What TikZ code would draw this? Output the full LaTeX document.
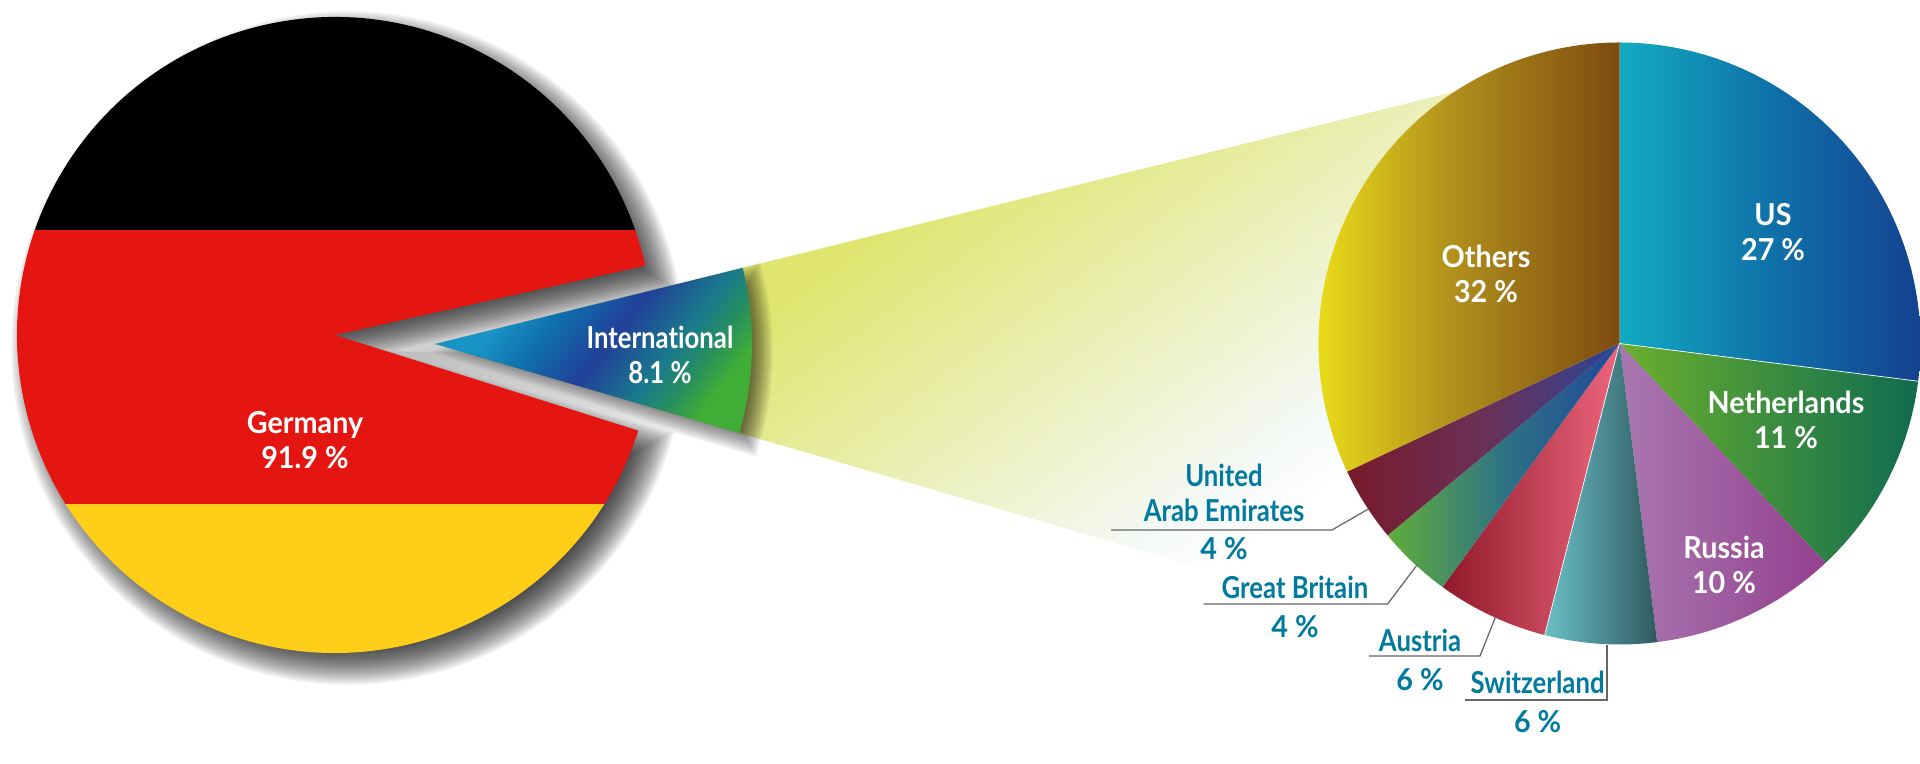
\documentclass[tikz,border=0pt]{standalone}
\usepackage{fontspec}
\setmainfont{Lato}[Ligatures=NoCommon,FakeStretch=0.95]
\newfontfamily\narrowfont{Lato}[Ligatures=NoCommon,FakeStretch=0.85]
\usepackage{tikz}
\usetikzlibrary{positioning}

\definecolor{gerblack}{HTML}{000000}
\definecolor{gerred}{HTML}{E51611}
\definecolor{geryellow}{HTML}{FFCE19}
\definecolor{labelteal}{HTML}{007A9E}

\pgfdeclarehorizontalshading{fanshade}{100bp}{rgb(0bp)=(0.875,0.898,0.435); rgb(40bp)=(0.875,0.898,0.435); rgb(67bp)=(0.96,0.976,0.973); rgb(71bp)=(1,1,1); rgb(100bp)=(1,1,1)}
\pgfdeclarehorizontalshading{intlshade}{100bp}{rgb(0bp)=(0.10,0.58,0.78); rgb(31bp)=(0.10,0.58,0.78); rgb(40bp)=(0.06,0.44,0.68); rgb(51bp)=(0.13,0.25,0.60); rgb(62bp)=(0.10,0.48,0.55); rgb(68bp)=(0.15,0.56,0.37); rgb(74bp)=(0.25,0.68,0.21); rgb(100bp)=(0.25,0.68,0.21)}
\pgfdeclarehorizontalshading{usshade}{100bp}{rgb(0bp)=(0.07,0.67,0.76); rgb(25bp)=(0.07,0.67,0.76); rgb(50bp)=(0.06,0.44,0.66); rgb(75bp)=(0.08,0.25,0.56); rgb(100bp)=(0.08,0.25,0.56)}
\pgfdeclarehorizontalshading{nlshade}{100bp}{rgb(0bp)=(0.42,0.69,0.18); rgb(25bp)=(0.42,0.69,0.18); rgb(75bp)=(0.06,0.42,0.31); rgb(100bp)=(0.06,0.42,0.31)}
\pgfdeclarehorizontalshading{rushade}{100bp}{rgb(0bp)=(0.66,0.47,0.69); rgb(25bp)=(0.66,0.47,0.69); rgb(75bp)=(0.58,0.25,0.56); rgb(100bp)=(0.58,0.25,0.56)}
\pgfdeclarehorizontalshading{chshade}{100bp}{rgb(0bp)=(0.42,0.75,0.78); rgb(25bp)=(0.42,0.75,0.78); rgb(75bp)=(0.18,0.35,0.37); rgb(100bp)=(0.18,0.35,0.37)}
\pgfdeclarehorizontalshading{atshade}{100bp}{rgb(0bp)=(0.56,0.10,0.16); rgb(25bp)=(0.56,0.10,0.16); rgb(75bp)=(0.93,0.40,0.49); rgb(100bp)=(0.93,0.40,0.49)}
\pgfdeclarehorizontalshading{gbshade}{100bp}{rgb(0bp)=(0.38,0.68,0.23); rgb(25bp)=(0.38,0.68,0.23); rgb(50bp)=(0.18,0.45,0.52); rgb(75bp)=(0.13,0.28,0.60); rgb(100bp)=(0.13,0.28,0.60)}
\pgfdeclarehorizontalshading{uaeshade}{100bp}{rgb(0bp)=(0.47,0.10,0.17); rgb(25bp)=(0.47,0.10,0.17); rgb(50bp)=(0.42,0.19,0.34); rgb(75bp)=(0.17,0.27,0.59); rgb(100bp)=(0.17,0.27,0.59)}
\pgfdeclarehorizontalshading{othershade}{100bp}{rgb(0bp)=(0.95,0.91,0.10); rgb(28bp)=(0.95,0.91,0.10); rgb(50bp)=(0.70,0.57,0.11); rgb(75bp)=(0.49,0.29,0.06); rgb(100bp)=(0.49,0.29,0.06)}

\tikzset{
	inlabel/.style={text=white,font=\fontsize{8.6}{9.9}\selectfont\bfseries,align=center},
	intlabel/.style={text=white,font=\narrowfont\fontsize{8.6}{9.9}\selectfont\bfseries,align=center},
	outlabel/.style={text=labelteal,font=\narrowfont\fontsize{8.6}{9.9}\selectfont\bfseries,align=center},
	leader/.style={draw=black!60,line width=0.35pt},
}
\newcommand{\germanypie}{(335,429) -- ++(12.6:318) arc[start angle=12.6,end angle=342.5,radius=318] -- cycle}
\newcommand{\intlpie}{(435,420) -- ++(13.9:317) arc[start angle=13.9,end angle=-16.3,radius=317] -- cycle}

\begin{document}
\begin{tikzpicture}[x=0.01cm,y=0.01cm]
	\useasboundingbox (0,0) rectangle (1920,764);

	\coordinate (tip) at (435,420);
	\shade[shading=fanshade,shading angle=-54] (tip) -- ++(13.9:1100) -- ([shift={(-16.3:1000)}]tip) -- cycle;

	\begin{scope}[shift={(13,-13)}]
	\foreach \h in {-19,-18,...,19}
	{ \pgfmathsetmacro{\ang}{asin(\h/(318+\h))}
	\pgfmathsetmacro{\off}{\h/0.251}
	\fill[black,opacity=0.033] ([shift={(-2.45:\off)}]335,429) -- ([shift={(12.6-\ang:318+\h)}]335,429) arc[start angle=12.6-\ang,end angle=342.5+\ang,radius=318+\h] -- cycle;
	}
	\end{scope}
	\begin{scope}[shift={(9,-9)}]
	\foreach \h in {-12,-11,...,12}
	{ \pgfmathsetmacro{\ang}{asin(\h/(317+\h))}
	\pgfmathsetmacro{\off}{-\h/0.2605}
	\fill[black,opacity=0.033] ([shift={(-1.2:\off)}]435,420) -- ([shift={(13.9+\ang:317+\h)}]435,420) arc[start angle=13.9+\ang,end angle=-16.3-\ang,radius=317+\h] -- cycle;
	}
	\end{scope}

	\begin{scope}
	\clip \germanypie;
	\fill[gerblack] (0,534) rectangle (700,764);
	\fill[gerred] (0,260) rectangle (700,534);
	\fill[geryellow] (0,0) rectangle (700,260);
	\end{scope}
	\shade[shading=intlshade,shading angle=-37.6] \intlpie;

	\coordinate (rc) at (1619.5,420.5);
	\foreach \a/\b/\sh in {90/-7.2/usshade,-7.2/-46.8/nlshade,-46.8/-82.8/rushade,-82.8/-104.4/chshade,-104.4/-126/atshade,-126/-140.4/gbshade,-140.4/-154.8/uaeshade,-154.8/-270/othershade}
	{ \shade[shading=\sh] (rc) -- ++(\a:301) arc[start angle=\a,end angle=\b,radius=301] -- cycle;
	}
	\foreach \a in {-7.2,-104.4}
	{ \draw[white,line width=0.2pt] (rc) -- ++(\a:301);
	}

	\node[inlabel] (ger) at (305,324) {Germany\\91.9 \%};
	\node[intlabel] (intl) at (660,409) {International\\8.1 \%};
	\node[inlabel] (us) at (1773,532) {US\\27 \%};
	\node[inlabel] (other) at (1486,490) {Others\\32 \%};
	\node[inlabel] (nl) at (1786,344) {Netherlands\\11 \%};
	\node[inlabel] (ru) at (1724,199) {Russia\\10 \%};
	\node[outlabel] (uae) at (1224,252) {United\\Arab Emirates\\[1pt]\rmfamily\bfseries 4 \%};
	\node[outlabel] (gb) at (1295,157) {Great Britain\\[1pt]\rmfamily\bfseries 4 \%};
	\node[outlabel] (at) at (1420,104) {Austria\\[1pt]\rmfamily\bfseries 6 \%};
	\node[outlabel] (ch) at (1537.6,62) {Switzerland\\[1pt]\rmfamily\bfseries 6 \%};

	\coordinate (uaeL) at (1111,234);
	\coordinate (uaeB) at (1332,234);
	\coordinate (uaeE) at (1368.5,255);
	\coordinate (gbL) at (1203.5,160);
	\coordinate (gbB) at (1387.6,160);
	\coordinate (gbE) at (1417,199);
	\coordinate (atL) at (1369,108);
	\coordinate (atB) at (1480,108);
	\coordinate (atE) at (1495.5,147);
	\coordinate (chL) at (1465,64);
	\coordinate (chB) at (1607,64);
	\coordinate (chE) at (1607,119);
	\foreach \n in {uae,gb,at,ch}
	{ \draw[leader] (\n L) -- (\n B) -- (\n E);
	}
\end{tikzpicture}
\end{document}
